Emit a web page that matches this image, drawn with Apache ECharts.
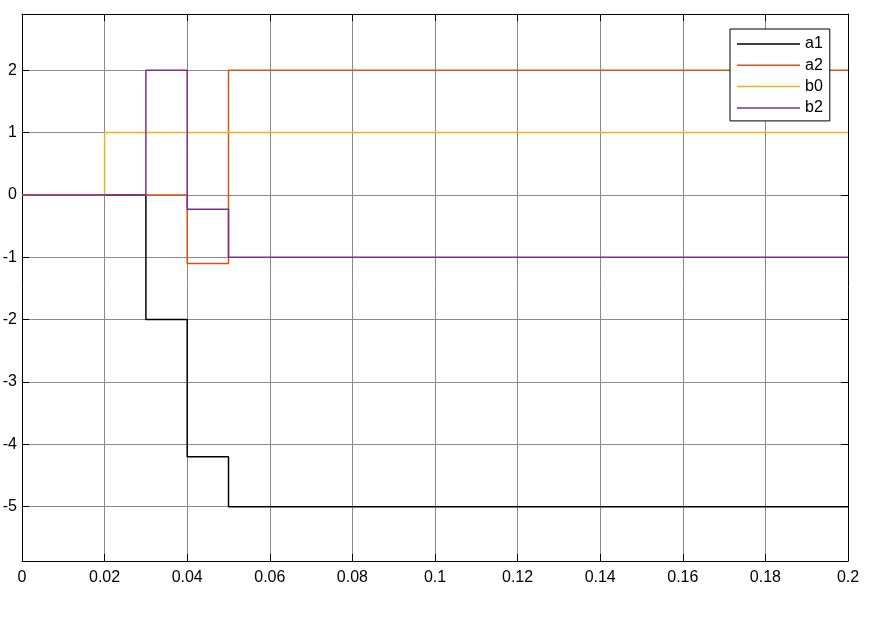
<!DOCTYPE html>
<html><head><meta charset="utf-8">
<script src="https://cdn.jsdelivr.net/npm/echarts@6/dist/echarts.min.js"></script>
<style>html,body{margin:0;padding:0;background:#fff}#c{width:875px;height:619px}</style>
</head><body><div id="c"></div>
<script>
const a1 = [[0,0],[0.03,-2],[0.04,-4.2],[0.05,-5],[0.2,-5]];
const a2 = [[0,0],[0.04,-1.1],[0.05,2],[0.2,2]];
const b0 = [[0,0],[0.02,1],[0.2,1]];
const b2 = [[0,0],[0.03,2],[0.04,-0.23],[0.05,-1],[0.2,-1]];
const yTicks = [-5,-4,-3,-2,-1,0,1,2];
const xTicks = [0,0.02,0.04,0.06,0.08,0.1,0.12,0.14,0.16,0.18,0.2];

const chart = echarts.init(document.getElementById('c'));
const font = 'Liberation Sans, Arial, sans-serif';
const mk = (name, data, color) => ({name, type:'line', data, step:'end', symbol:'none',
  lineStyle:{color, width:1.5}, itemStyle:{color}, animation:false, z:2});
chart.setOption({
  animation:false,
  grid:{left:22, right:27, top:14, bottom:58, show:false, outerBoundsMode:'none', containLabel:false},
  legend:{orient:'vertical', left:730, top:29, backgroundColor:'#fff',
    borderColor:'#000', borderWidth:1, padding:[7,7,5,7], itemGap:5.3, itemWidth:63, itemHeight:14,
    icon:'path://M0,7 L63,7 L63,8.5 L0,8.5 Z',
    textStyle:{fontFamily:font, fontSize:16, color:'#000'},
    data:['a1','a2','b0','b2']},
  xAxis:[{type:'value', min:0, max:0.2, interval:0.02, position:'bottom',
    axisLine:{onZero:false, lineStyle:{color:'#000', width:1}},
    axisTick:{inside:true, length:7, lineStyle:{color:'#000'}},
    axisLabel:{fontFamily:font, fontSize:16, color:'#000', margin:9,
      formatter:v=>String(Math.round(v*100)/100)},
    splitLine:{show:true, lineStyle:{color:'#8a8a8a', width:1}}},
    {type:'value', min:0, max:0.2, interval:0.02, position:'top',
    axisLine:{show:true, onZero:false, lineStyle:{color:'#000'}},
    axisTick:{inside:true, length:7, lineStyle:{color:'#000'}}, axisLabel:{show:false}, splitLine:{show:false}}],
  yAxis:[{type:'value', min:-5.87, max:2.9, position:'left',
    axisLine:{show:true, onZero:false, lineStyle:{color:'#000'}},
    axisTick:{inside:true, length:7, lineStyle:{color:'#000'}, customValues:yTicks},
    axisLabel:{fontFamily:font, fontSize:16, color:'#000', margin:5, customValues:yTicks},
    splitLine:{show:true, lineStyle:{color:'#8a8a8a', width:1}}},
    {type:'value', min:-5.87, max:2.9, position:'right',
    axisLine:{show:true, onZero:false, lineStyle:{color:'#000'}},
    axisTick:{inside:true, length:7, lineStyle:{color:'#000'}, customValues:yTicks},
    axisLabel:{show:false, customValues:yTicks}, splitLine:{show:false}}],
  series:[mk('a1',a1,'#000000'), mk('a2',a2,'#D95319'), mk('b0',b0,'#EDB120'), mk('b2',b2,'#7E2F8E')]
});
</script></body></html>
